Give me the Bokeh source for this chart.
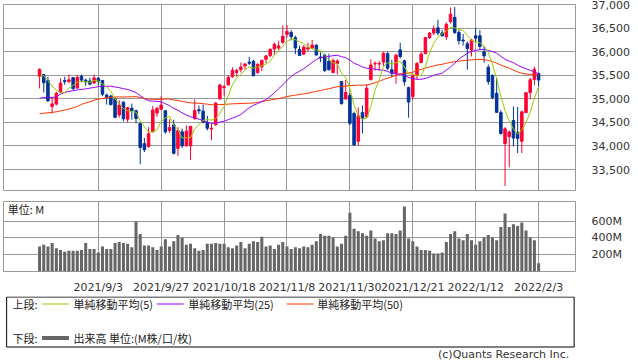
import numpy as np
import pandas as pd
from bokeh.plotting import figure
from bokeh.models import Range1d, FixedTicker, Grid, Label, NumeralTickFormatter, ColumnDataSource
from bokeh.layouts import column
from bokeh.embed import file_html
from bokeh.resources import INLINE
from bokeh.core.properties import value

# ---------------- data ----------------
holidays = ["2021-09-06", "2021-11-25", "2021-12-24", "2022-01-17"]
tick_labels = ["2021/9/3", "2021/9/27", "2021/10/18", "2021/11/8",
               "2021/11/30", "2021/12/21", "2022/1/12", "2022/2/3"]
price_ticks = [33500, 34000, 34500, 35000, 35500, 36000, 36500, 37000]
volume_ticks = [200, 400, 600]

# closes before the first visible day (used only for the moving averages)
prior_closes = [34630, 34600, 34448, 34466, 34480, 34394, 34299, 34033, 33823, 33290,
                33877, 33946, 33874, 34196, 34434, 34283, 34292, 34503,
                34633, 34786, 34577, 34681, 34422, 34870, 34996, 34889, 34933, 34987,
                34688, 33962, 34512, 34798, 34823, 35062, 35144, 35058, 34931, 35085, 34935,
                34838, 35117, 34793, 35065, 35208, 35102, 35265, 35485, 35500, 35515]

opens = [35480, 35515, 35390, 34840, 34890, 35150, 35390, 35370, 35450, 35230,
         35480, 35400, 35380, 35340, 35440, 35390, 35080, 35060, 35000, 34660,
         34930, 34570, 34800, 34750, 34480, 34050, 33990, 34300, 34700, 34780,
         34750, 34330, 34450, 33950, 34300, 34000, 34000, 34580, 34770, 34740,
         34500, 34360, 34450, 35000, 35240, 35300, 35470, 35560, 35620, 35700,
         35780, 35800, 35560, 35680, 35840, 35920, 36060, 36080, 36200, 36370,
         36410, 36300, 36050, 35950, 36060, 36080, 36140, 35890, 35930, 35800,
         35560, 35750, 35370, 35000, 35070, 34690, 34100, 34710, 34620, 35410,
         35740, 35740, 35780, 35960, 35620, 35540, 36040, 35810, 35240, 35050,
         35500, 35770, 35960, 36300, 36400, 36510, 36400, 36320, 36640, 36730,
         36410, 36250, 36170, 36040, 36340, 36340, 36000, 35670, 35500, 35120,
         34710, 34050, 34200, 34540, 34290, 34100, 34710, 35135, 35410, 35540]

highs = [35650, 35530, 35470, 35030, 35150, 35440, 35470, 35520, 35460, 35510,
         35520, 35430, 35450, 35520, 35460, 35400, 35110, 35090, 35030, 34970,
         34950, 34830, 34900, 34770, 34490, 34170, 34400, 34850, 34830, 35060,
         34760, 34570, 34560, 34400, 34370, 34440, 34420, 34990, 34860, 34880,
         34640, 34480, 34930, 35320, 35300, 35500, 35670, 35640, 35770, 35760,
         35890, 35830, 35760, 35830, 35930, 36070, 36200, 36230, 36560, 36570,
         36460, 36340, 36130, 36140, 36190, 36250, 36160, 35990, 35960, 35960,
         35860, 35840, 35380, 35400, 35130, 34730, 34820, 34860, 35300, 35840,
         35800, 35800, 35990, 36000, 35830, 35960, 36190, 35830, 35260, 35520,
         35780, 36000, 36310, 36420, 36560, 36680, 36470, 36620, 36940, 36950,
         36460, 36380, 36220, 36270, 36510, 36460, 36120, 35730, 35520, 35440,
         34760, 34400, 34330, 34840, 34830, 34750, 35140, 35450, 35685, 35560]

lows = [35222, 35135, 34930, 34690, 34860, 35120, 35300, 35330, 35200, 35220,
        35350, 35280, 35290, 35310, 35290, 35060, 34880, 34860, 34590, 34600,
        34520, 34500, 34560, 34480, 33613, 33870, 33960, 34290, 34620, 34760,
        34260, 34280, 33820, 33790, 33960, 34000, 33700, 34560, 34680, 34490,
        34330, 34120, 34430, 34980, 35070, 35280, 35450, 35470, 35560, 35620,
        35720, 35490, 35530, 35590, 35760, 35880, 35930, 36040, 36170, 36300,
        36240, 35950, 35910, 35940, 36000, 36050, 35920, 35780, 35570, 35600,
        35540, 35520, 34880, 34980, 34440, 34010, 34000, 34270, 34600, 35390,
        35600, 35600, 35700, 35610, 35460, 35320, 35860, 35280, 34600, 34990,
        35410, 35760, 35950, 36270, 36350, 36350, 36330, 36250, 36600, 36380,
        36150, 36130, 35620, 35900, 36200, 36040, 35770, 35300, 34990, 34700,
        34240, 33150, 33550, 33990, 33850, 33850, 34700, 34990, 35290, 35260]

closes = [35625, 35343, 34961, 34894, 35120, 35336, 35366, 35405, 35213, 35456,
          35400, 35361, 35313, 35444, 35369, 35100, 35031, 34879, 34608, 34870,
          34578, 34814, 34751, 34584, 33970, 33919, 34258, 34765, 34798, 34870,
          34299, 34390, 33844, 34326, 34002, 34315, 34417, 34755, 34746, 34497,
          34378, 34377, 34912, 35295, 35259, 35458, 35610, 35603, 35677, 35741,
          35757, 35491, 35731, 35820, 35913, 36053, 36158, 36124, 36328, 36432,
          36320, 36080, 35921, 36100, 36087, 36142, 35931, 35871, 35602, 35620,
          35814, 35805, 34899, 35136, 34484, 34022, 34640, 34580, 35227, 35720,
          35754, 35754, 35971, 35650, 35544, 35927, 35898, 35365, 34932, 35493,
          35754, 35950, 36302, 36398, 36488, 36398, 36338, 36585, 36799, 36407,
          36236, 36231, 36068, 36252, 36290, 36114, 35912, 35369, 35029, 34715,
          34265, 34365, 34298, 34168, 34160, 34725, 35132, 35405, 35630, 35400]

volumes_m = [298, 319, 298, 340, 277, 256, 235, 246, 246, 246,
             256, 340, 267, 267, 225, 298, 267, 267, 340, 351,
             340, 330, 288, 593, 446, 309, 309, 288, 256, 298,
             383, 298, 361, 435, 400, 319, 330, 277, 246, 256,
             330, 330, 340, 330, 330, 288, 277, 309, 351, 277,
             330, 361, 351, 414, 298, 309, 267, 319, 351, 298,
             267, 288, 277, 298, 288, 319, 361,
             446, 425, 425, 400, 298, 330, 425, 698, 509, 477,
             456, 425, 488, 393, 361, 372, 456, 456, 446, 488,
             772, 393, 361, 298, 256, 256, 246, 214, 214, 225,
             351, 446, 477, 393, 372, 446, 372, 319, 361, 404,
             435, 404, 372, 530, 688, 530, 561, 540, 582, 488,
             404, 372, 98]

# ---------------- derived ----------------
days = [d for d in pd.bdate_range("2021-08-16", "2022-02-03")
        if d.strftime("%Y-%m-%d") not in holidays]
day_labels = [f"{d.year}/{d.month}/{d.day}" for d in days]
tick_idx = [day_labels.index(t) for t in tick_labels]

n = len(closes)
x = np.arange(n)
allc = np.array(prior_closes + closes, dtype=float)
npr = len(prior_closes)


def sma(k):
    return [allc[npr + i - k + 1: npr + i + 1].mean() for i in range(n)]


ma5, ma25, ma50 = sma(5), sma(25), sma(50)

UP, DOWN = "#ff0033", "#003399"
colors = [UP if c >= o else DOWN for o, c in zip(opens, closes)]
src = ColumnDataSource(dict(
    x=x, o=opens, h=highs, l=lows, c=closes,
    top=[max(o, c) for o, c in zip(opens, closes)],
    bot=[min(o, c) for o, c in zip(opens, closes)],
    color=colors, vol=volumes_m))

GRID = "#999999"
LATIN = "DejaVu Sans"
CJK = "Noto Sans CJK JP"
TXT = "#222222"
W = 638
xr = Range1d(-8.6, 127.8)


def style_common(fig):
    fig.outline_line_color = GRID
    fig.outline_line_width = 1
    fig.background_fill_color = "white"
    fig.border_fill_color = "white"


def fix_xgrid(fig):
    grids = [g for g in fig.center if isinstance(g, Grid) and g.dimension == 0]
    for g in grids:
        g.ticker = FixedTicker(ticks=tick_idx)
        g.grid_line_color = GRID
        g.grid_line_width = 1
    if not grids:
        fig.add_layout(Grid(dimension=0, ticker=FixedTicker(ticks=tick_idx),
                            grid_line_color=GRID, grid_line_width=1), "center")


def style_yaxis(ax, ticks):
    ax.ticker = FixedTicker(ticks=ticks)
    ax.axis_line_color = None
    ax.major_tick_line_color = None
    ax.minor_tick_line_color = None
    ax.major_label_standoff = 10
    ax.major_label_text_font = LATIN
    ax.major_label_text_font_size = "11px"
    ax.major_label_text_color = "#333333"


# ---------------- price panel ----------------
p = figure(width=W, height=196, x_range=xr, y_range=Range1d(33055, 37004),
           output_backend="svg", toolbar_location=None, title=None,
           x_axis_location=None, y_axis_location="right",
           min_border_left=3, min_border_right=63, min_border_top=4, min_border_bottom=6)
style_common(p)
fix_xgrid(p)
style_yaxis(p.yaxis[0], price_ticks)
p.yaxis[0].formatter = NumeralTickFormatter(format="0,0")
for g in p.ygrid:
    g.grid_line_color = GRID
    g.grid_line_width = 1

p.segment(x0="x", y0="l", x1="x", y1="h", color="color", line_width=1, source=src)
p.vbar(x="x", width=0.6, top="top", bottom="bot", fill_color="color",
       line_color="color", line_width=1, source=src)
p.line(x, ma50, color="#ff3300", line_width=1)
p.line(x, ma25, color="#9900ff", line_width=1)
p.line(x, ma5, color="#99cc00", line_width=1)

# ---------------- volume panel ----------------
v = figure(width=W, height=100, x_range=xr, y_range=Range1d(0, 832),
           output_backend="svg", toolbar_location=None, title=None,
           x_axis_location="below", y_axis_location="right",
           min_border_left=3, min_border_right=63, min_border_top=5, min_border_bottom=16)
style_common(v)
xa = v.xaxis[0]
xa.ticker = FixedTicker(ticks=tick_idx)
xa.major_label_overrides = {i: t for i, t in zip(tick_idx, tick_labels)}
xa.axis_line_color = None
xa.major_tick_line_color = None
xa.minor_tick_line_color = None
xa.major_label_standoff = 3
xa.major_label_text_font = LATIN
xa.major_label_text_font_size = "11px"
xa.major_label_text_color = "#333333"
fix_xgrid(v)
style_yaxis(v.yaxis[0], volume_ticks)
v.yaxis[0].major_label_overrides = {t: f"{t}M" for t in volume_ticks}
for g in v.ygrid:
    g.grid_line_color = GRID
    g.grid_line_width = 1
v.vbar(x="x", width=0.72, top="vol", bottom=0, fill_color="#666666",
       line_color=None, source=src)
v.add_layout(Label(x=-7.6, y=740, text="単位: M", text_font=CJK,
                   text_font_size="11px", text_color=TXT, text_baseline="middle"))

# ---------------- legend panel ----------------
lg = figure(width=W, height=66, x_range=Range1d(0, W), y_range=Range1d(66, 0),
            output_backend="svg", toolbar_location=None, title=None,
            x_axis_location=None, y_axis_location=None, min_border=0)
lg.outline_line_color = None
for r in list(lg.center):
    r.visible = False
lg.quad(left=[3.5], right=[636.5], top=[0.5], bottom=[50.5],
        fill_color=None, line_color="#000000", line_width=1)
legend_items = [("単純移動平均(5)", "#99cc00", 43, 78),
                ("単純移動平均(25)", "#9900ff", 171, 206),
                ("単純移動平均(50)", "#ff3300", 316, 350)]
for label, col, lx, tx in legend_items:
    lg.line([lx, lx + 30], [7.5, 7.5], color=col, line_width=1)
    lg.text(x=[tx], y=[7.8], text=[label], text_font=value(CJK), text_font_size="11px",
            text_color=TXT, text_baseline="middle")
lg.text(x=[10], y=[7.8], text=["上段:"], text_font=value(CJK), text_font_size="11px",
        text_color=TXT, text_baseline="middle")
lg.text(x=[10], y=[41.5], text=["下段:"], text_font=value(CJK), text_font_size="11px",
        text_color=TXT, text_baseline="middle")
lg.line([43, 73], [41.5, 41.5], color="#666666", line_width=4)
lg.text(x=[78], y=[41.5], text=["出来高 単位:(M株/口/枚)"], text_font=value(CJK),
        text_font_size="11px", text_color=TXT, text_baseline="middle")
lg.text(x=[631], y=[57.5], text=["(c)Quants Research Inc."], text_font=value(LATIN),
        text_font_size="11px", text_color="#333333", text_baseline="middle",
        text_align="right")

layout = column(p, v, lg, spacing=0)
html = file_html(layout, INLINE)
html = html.replace("<body>", '<body style="margin:0">', 1)
open("out.html", "w").write(html)
